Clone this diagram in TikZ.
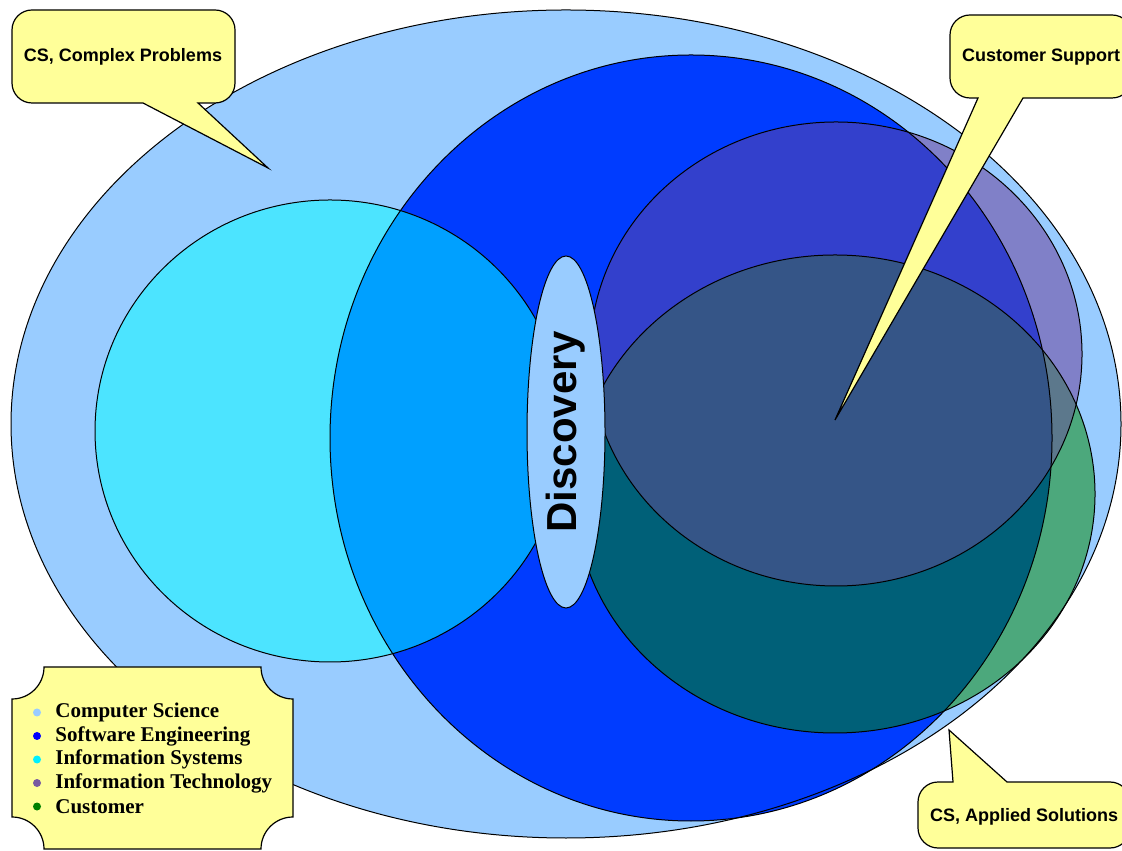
\documentclass[tikz,border=0pt]{standalone}
\usepackage{fontspec}
\setmainfont{Liberation Serif}
\setsansfont{Liberation Sans}
\usetikzlibrary{shapes.geometric}

\definecolor{cscol}{RGB}{153,204,255}
\definecolor{secol}{RGB}{0,60,255}
\definecolor{iscol}{RGB}{76,228,255}
\definecolor{isse}{RGB}{0,160,255}
\definecolor{itcol}{RGB}{128,128,200}
\definecolor{itse}{RGB}{51,64,204}
\definecolor{itcu}{RGB}{92,120,140}
\definecolor{itcuse}{RGB}{53,85,135}
\definecolor{cucol}{RGB}{76,168,124}
\definecolor{cuse}{RGB}{0,96,120}
\definecolor{noteyellow}{RGB}{255,255,153}
\definecolor{lgse}{RGB}{0,0,255}
\definecolor{lgis}{RGB}{0,240,255}
\definecolor{lgit}{RGB}{120,90,160}
\definecolor{lgcu}{RGB}{0,128,0}

% the five areas
\def\ellCS{(566,426) ellipse [x radius=555, y radius=414]}
\def\ellSE{(691,412) ellipse [x radius=361, y radius=383]}
\def\ellIS{(330,419) ellipse [x radius=235, y radius=231]}
\def\ellIT{(836,496) ellipse [x radius=246, y radius=232]}
\def\ellCU{(835,356) ellipse [x radius=260, y radius=239]}

\begin{document}
\begin{tikzpicture}[x=0.5pt,y=0.5pt,
	outline/.style={draw=black,line width=0.5pt},
	callout/.style={draw=black,fill=noteyellow,line width=0.6pt},
	notetext/.style={font=\sffamily\bfseries\fontsize{9}{11}\selectfont,inner sep=0},
	legtext/.style={anchor=west,inner sep=0,font=\bfseries\fontsize{10.5}{12}\selectfont},
	discbox/.style={ellipse,draw=black,line width=0.5pt,fill=cscol,inner sep=0,
		minimum width=176pt,minimum height=39pt,
		font=\sffamily\bfseries\fontsize{21}{24}\selectfont}]
	\useasboundingbox (0,0) rectangle (1122,850);
	% fills
	\fill[cscol] \ellCS;
	\fill[secol] \ellSE;
	\fill[iscol] \ellIS;
	\fill[cucol] \ellCU;
	\fill[itcol] \ellIT;
	\begin{scope}
		\clip \ellCU;
		\fill[itcu] \ellIT;
	\end{scope}
	\begin{scope}
		\clip \ellSE;
		\fill[isse] \ellIS;
		\fill[cuse] \ellCU;
		\fill[itse] \ellIT;
		\clip \ellCU;
		\fill[itcuse] \ellIT;
	\end{scope}
	% outlines
	\draw[outline] \ellCS;
	\draw[outline] \ellSE;
	\draw[outline] \ellIS;
	\draw[outline] \ellCU;
	\draw[outline] \ellIT;
	\node[discbox,rotate=90] (disc) at (566,418) {Discovery};
	% callouts
	\draw[callout] (143,747) [rounded corners=10pt] -- (12,747) -- (12,840) -- (235,840)
		-- (235,747) [sharp corners] -- (198,747) -- (268,682) -- cycle;
	\node[notetext] (complex) at (123,793) {CS, Complex Problems};
	\draw[callout] (978,752) [rounded corners=10pt] -- (950,752) -- (950,835) -- (1132,835)
		-- (1132,752) [sharp corners] -- (1023,752) -- (835,430) -- cycle;
	\node[notetext] (support) at (1041,793) {Customer Support};
	\draw[callout] (953,68) [rounded corners=10pt] -- (918,68) -- (918,2) -- (1130,2)
		-- (1130,68) [sharp corners] -- (1007,68) -- (949,120) -- cycle;
	\node[notetext] (applied) at (1024,33) {CS, Applied Solutions};
	% legend
	\draw[callout] (44,183) -- (261,183) arc[start angle=180,end angle=270,radius=16pt]
		-- (293,33) arc[start angle=90,end angle=180,radius=16pt]
		-- (44,1) arc[start angle=0,end angle=90,radius=16pt]
		-- (12,151) arc[start angle=270,end angle=360,radius=16pt] -- cycle;
	\foreach \col/\txt [count=\i] in {cscol/Computer Science,lgse/Software Engineering,
		lgis/Information Systems,lgit/Information Technology,lgcu/Customer}{
		\fill[\col] (37,{161-23.5*\i}) circle[radius=2pt];
		\node[legtext] (leg\i) at (55,{161-23.5*\i}) {\txt};
	}
\end{tikzpicture}
\end{document}
